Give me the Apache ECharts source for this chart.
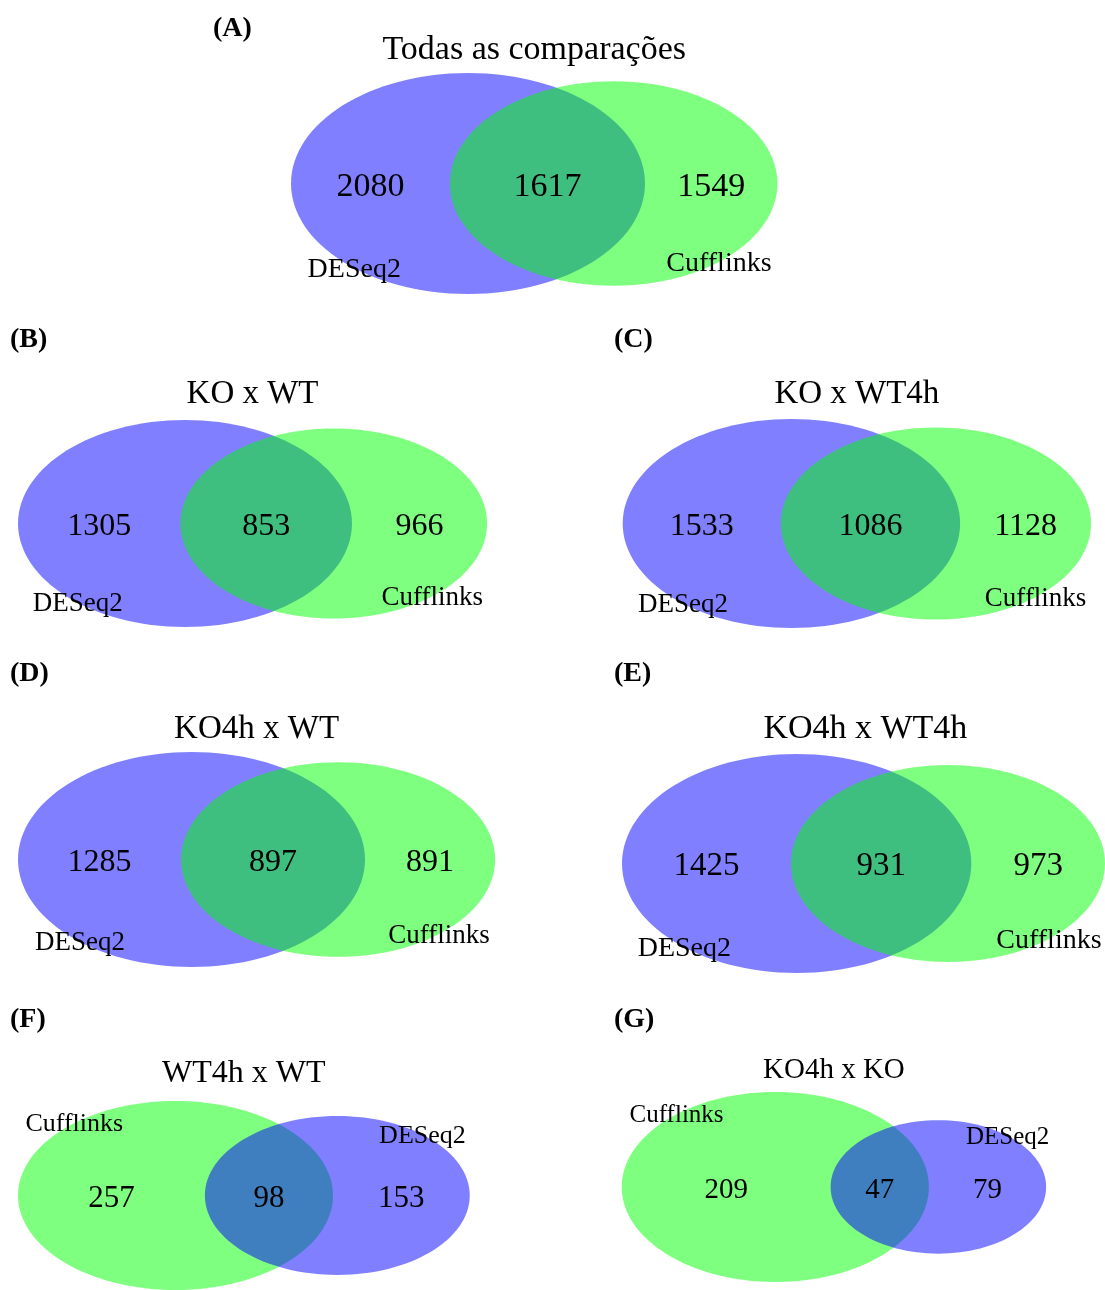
<!DOCTYPE html>
<html><head><meta charset="utf-8">
<script src="https://cdn.jsdelivr.net/npm/echarts@6/dist/echarts.min.js"></script>
<style>html,body{margin:0;padding:0;background:#fff}#chart{width:1105px;height:1290px}</style>
</head><body><div id="chart"></div>
<script>
// ---- data ----
const panelLetters = ['(A)', '(B)', '(C)', '(D)', '(E)', '(F)', '(G)'];
const comparisons = ['Todas as comparações', 'KO x WT', 'KO x WT4h', 'KO4h x WT', 'KO4h x WT4h', 'WT4h x WT', 'KO4h x KO'];
const setNames = ['DESeq2', 'Cufflinks'];
const deseq2Only = [2080, 1305, 1533, 1285, 1425, 153, 79];
const shared = [1617, 853, 1086, 897, 931, 98, 47];
const cufflinksOnly = [1549, 966, 1128, 891, 973, 257, 209];

// ---- styling / layout ----
const setColors = ['rgba(0,0,255,0.5)', 'rgba(0,255,0,0.5)'];
const FONT = '"Liberation Serif","Times New Roman","DejaVu Serif",serif';
// [leftPx, rxPx(left ellipse), centerYPx, ryPx(left ellipse), titleY, titleSize, numSize, labelSize, letterX, letterY]
const layout = [
  [291, 177, 183.5, 110.5, 48, 34, 34, 28, 213, 28],
  [18, 167, 523.5, 103.5, 392, 33, 32, 27, 10, 339],
  [622.7, 168.7, 523.5, 104.5, 392, 33, 32, 27, 614, 339],
  [18, 173.5, 859.5, 107.5, 727, 33, 32, 27, 10, 673],
  [622, 176, 863.5, 109.5, 727, 34, 33, 28, 614, 673],
  [18, 157.5, 1198, 97, 1072, 32, 31, 26, 10, 1019],
  [621.7, 153.6, 1187, 95, 1068, 29, 29, 25, 614, 1019]
];

function lensArea(r1, r2, d) {
  if (d >= r1 + r2) return 0;
  if (d <= Math.abs(r1 - r2)) return Math.PI * Math.min(r1, r2) ** 2;
  const a1 = Math.acos((d * d + r1 * r1 - r2 * r2) / (2 * d * r1));
  const a2 = Math.acos((d * d + r2 * r2 - r1 * r1) / (2 * d * r2));
  const k = Math.sqrt((-d + r1 + r2) * (d + r1 - r2) * (d - r1 + r2) * (d + r1 + r2));
  return r1 * r1 * a1 + r2 * r2 * a2 - 0.5 * k;
}
function solveDistance(r1, r2, target) {
  let lo = Math.abs(r1 - r2), hi = r1 + r2;
  for (let i = 0; i < 100; i++) {
    const mid = (lo + hi) / 2;
    if (lensArea(r1, r2, mid) > target) lo = mid; else hi = mid;
  }
  return (lo + hi) / 2;
}

function textStyle(text, size, weight, align) {
  return { text: text, fontSize: size, fontWeight: weight || 'normal', fontFamily: FONT, fill: '#000',
           align: align || 'center', verticalAlign: 'middle',
           textAlign: align || 'center', textVerticalAlign: 'middle' };
}

const grids = [], xAxes = [], yAxes = [], series = [], graphics = [];
comparisons.forEach((title, i) => {
  const L = layout[i];
  const totD = deseq2Only[i] + shared[i];
  const totC = cufflinksOnly[i] + shared[i];
  // larger set drawn on the left
  const swap = totC > totD;
  const leftSet = swap ? 1 : 0, rightSet = swap ? 0 : 1;
  const leftOnly = swap ? cufflinksOnly[i] : deseq2Only[i];
  const rightOnly = swap ? deseq2Only[i] : cufflinksOnly[i];
  const r1 = Math.sqrt((swap ? totC : totD) / Math.PI);
  const r2 = Math.sqrt((swap ? totD : totC) / Math.PI);
  const d = solveDistance(r1, r2, shared[i]);
  const xMin = -r1, xMax = d + r2;
  const pxPerUnit = L[1] / r1;
  const widthPx = (xMax - xMin) * pxPerUnit;
  grids.push({ left: L[0], top: L[2] - L[3], width: widthPx, height: 2 * L[3] });
  xAxes.push({ type: 'value', gridIndex: i, min: xMin, max: xMax, show: false });
  yAxes.push({ type: 'value', gridIndex: i, min: -r1, max: r1, show: false });

  const circles = [[0, r1, leftSet], [d, r2, rightSet]];
  series.push({
    type: 'custom', xAxisIndex: i, yAxisIndex: i, silent: true, clip: false, animation: false,
    data: circles,
    renderItem: (p, api) => {
      const c = api.coord([api.value(0), 0]);
      const s = api.size([api.value(1), api.value(1)]);
      return { type: 'ellipse', shape: { cx: c[0], cy: c[1], rx: s[0], ry: s[1] },
               style: { fill: setColors[api.value(2)] } };
    }
  });

  const angle = (swap ? 40 : 140) * Math.PI / 180;
  const texts = [
    { t: String(leftOnly), s: L[6], dy: 0.1 * L[6] },
    { t: String(shared[i]), s: L[6], dy: 0.1 * L[6] },
    { t: String(rightOnly), s: L[6], dy: 0.1 * L[6] },
    { t: setNames[leftSet], s: L[7], dy: 1.5 },
    { t: setNames[rightSet], s: L[7], dy: 1.5 }
  ];
  const textPos = [
    [(-r1 + (d - r2)) / 2, 0, 0],
    [((d - r2) + r1) / 2, 0, 1],
    [(r1 + d + r2) / 2, 0, 2],
    [-Math.sin(angle) * r1, Math.cos(angle) * r1, 3],
    [d + Math.sin(angle) * r2, Math.cos(angle) * r2, 4]
  ];
  series.push({
    type: 'custom', xAxisIndex: i, yAxisIndex: i, silent: true, clip: false, animation: false,
    data: textPos, z: 5,
    renderItem: (p, api) => {
      const pt = api.coord([api.value(0), api.value(1)]);
      const tx = texts[api.value(2)];
      return { type: 'text', x: pt[0], y: pt[1] + tx.dy, style: textStyle(tx.t, tx.s) };
    }
  });

  graphics.push({ type: 'text', x: L[0] + widthPx / 2, y: L[4] + 2, silent: true,
    style: textStyle(title, L[5]) });
  graphics.push({ type: 'text', x: L[8], y: L[9] + 1, silent: true,
    style: textStyle(panelLetters[i], 28, 'bold', 'left') });
});

const chart = echarts.init(document.getElementById('chart'), null, { renderer: 'canvas' });
chart.setOption({
  backgroundColor: '#fff',
  animation: false,
  grid: grids, xAxis: xAxes, yAxis: yAxes,
  series: series,
  graphic: { elements: graphics }
});
</script></body></html>
